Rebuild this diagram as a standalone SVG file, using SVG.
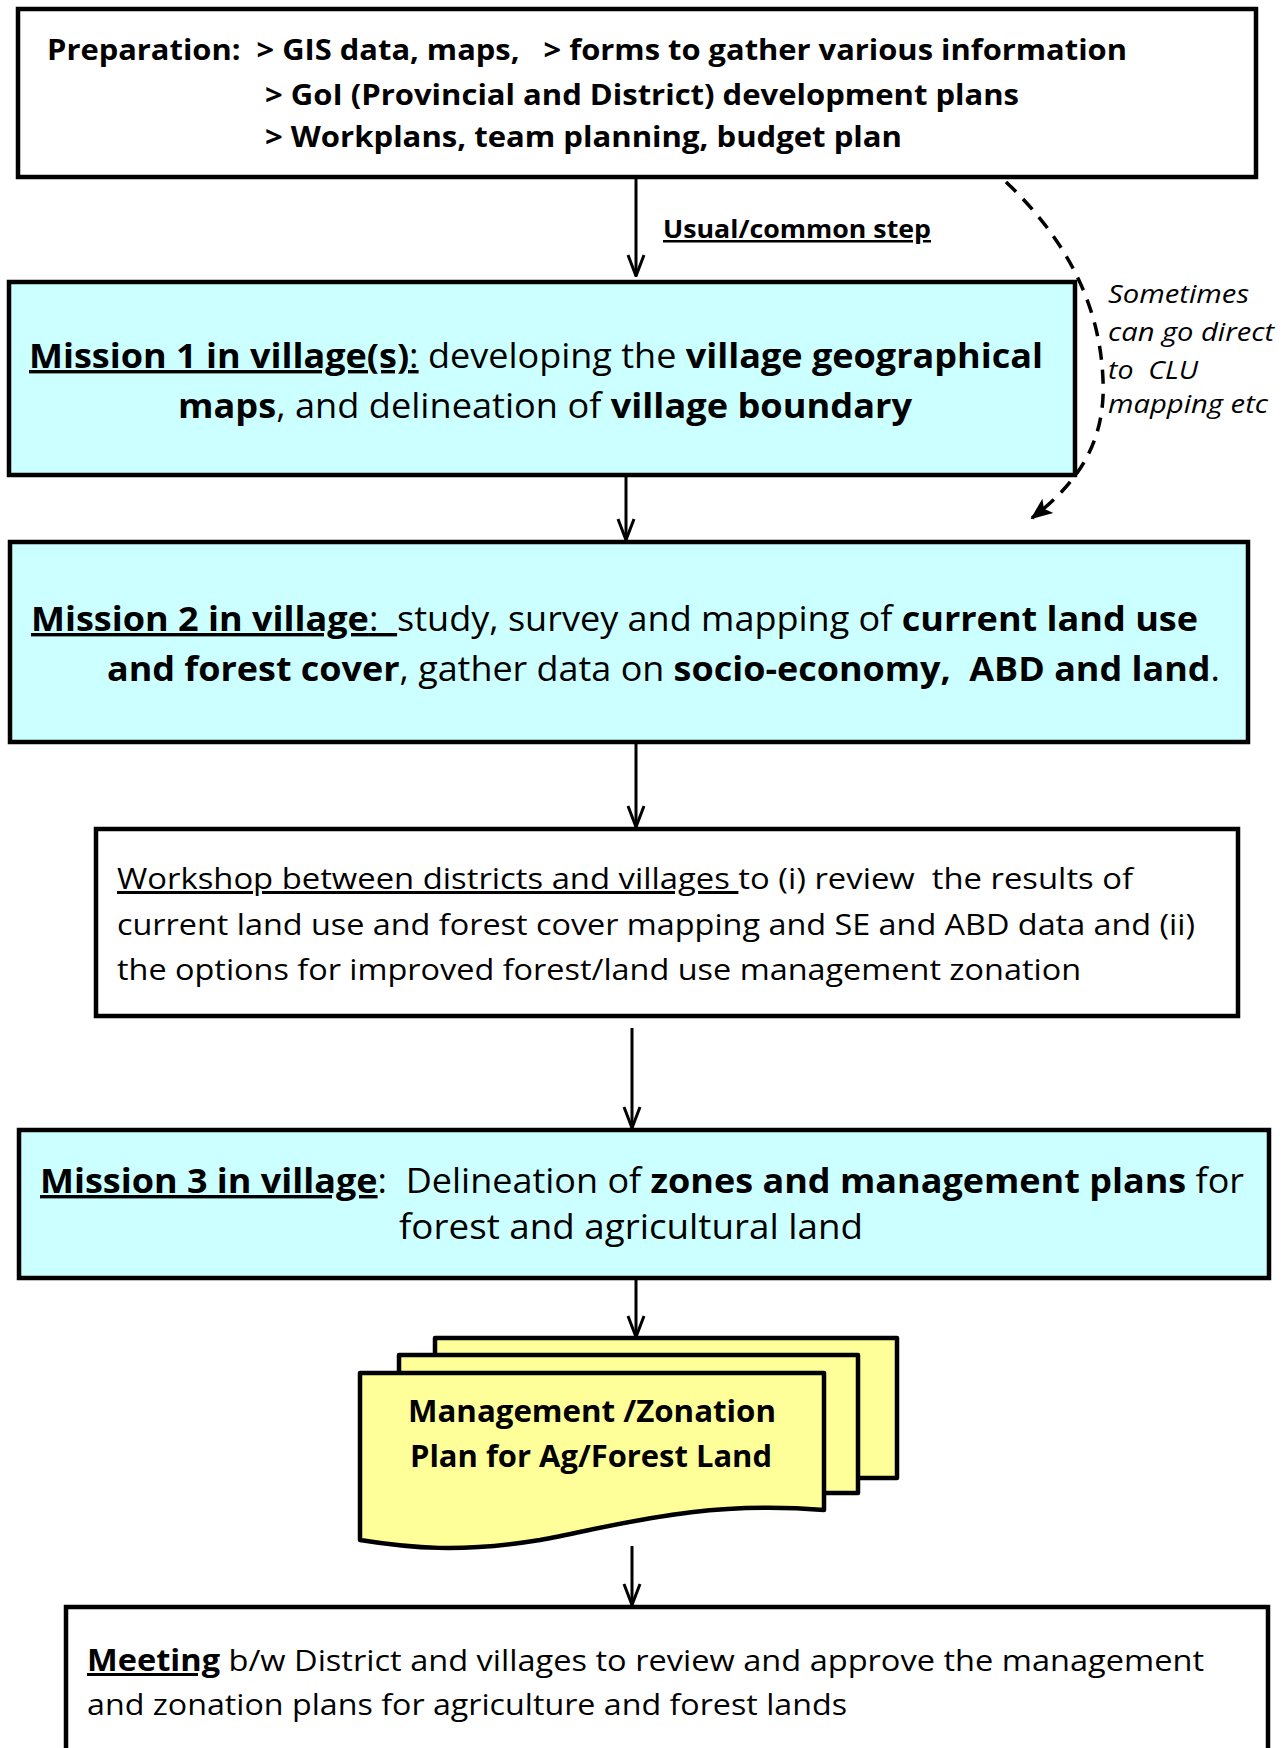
<svg xmlns="http://www.w3.org/2000/svg" width="1285" height="1748" viewBox="0 0 1285 1748">
<defs>
<style>
text{font-family:"Open Sans","Noto Sans","Liberation Sans",sans-serif;fill:#000;white-space:pre}
.b{font-weight:bold}
.u{text-decoration:underline}
.box{stroke:#000;stroke-width:4.5}
.cyan{fill:#CCFFFF}
.white{fill:#fff}
.doc{fill:#FFFF99;stroke:#000;stroke-width:4.5;stroke-linejoin:round}
.con{stroke:#000;stroke-width:3;fill:none}
.dash{stroke:#000;stroke-width:3.5;fill:none;stroke-dasharray:14 10}
</style>
<marker id="open" viewBox="0 0 24 24" refX="23" refY="12" markerWidth="24" markerHeight="24" markerUnits="userSpaceOnUse" orient="auto">
<path d="M2,4 L23,12 L2,20" fill="none" stroke="#000" stroke-width="3"/>
</marker>
<marker id="solid" viewBox="0 0 22 22" refX="20" refY="11" markerWidth="22" markerHeight="22" markerUnits="userSpaceOnUse" orient="auto">
<path d="M0,2 L22,11 L0,20 L5,11 Z" fill="#000"/>
</marker>
</defs>
<rect width="1285" height="1748" fill="#fff"/>

<g id="connectors">
<line class="con" x1="636" y1="179" x2="636" y2="276" marker-end="url(#open)"/>
<line class="con" x1="626" y1="477" x2="626" y2="540" marker-end="url(#open)"/>
<line class="con" x1="636" y1="744" x2="636" y2="827" marker-end="url(#open)"/>
<line class="con" x1="632" y1="1028" x2="632" y2="1128" marker-end="url(#open)"/>
<line class="con" x1="636" y1="1280" x2="636" y2="1337" marker-end="url(#open)"/>
<line class="con" x1="632" y1="1546" x2="632" y2="1605" marker-end="url(#open)"/>
<path class="dash" d="M1006,182 C1062,235 1100,300 1103,380 C1106,445 1075,485 1032,518" marker-end="url(#solid)"/>
<text class="b u" x="663" y="238" font-size="25" textLength="268" lengthAdjust="spacingAndGlyphs">Usual/common step</text>
<g id="side-label" font-style="italic" font-size="25">
<text x="1108" y="303" textLength="141" lengthAdjust="spacingAndGlyphs">Sometimes</text>
<text x="1108" y="341" textLength="166" lengthAdjust="spacingAndGlyphs">can go direct</text>
<text x="1108" y="379" textLength="90" lengthAdjust="spacingAndGlyphs">to  CLU</text>
<text x="1108" y="413" textLength="160" lengthAdjust="spacingAndGlyphs">mapping etc</text>
</g>
</g>

<g id="preparation">
<rect class="box white" x="18" y="9" width="1238" height="168"/>
<text class="b" x="47" y="60" font-size="28" textLength="1080" lengthAdjust="spacingAndGlyphs">Preparation:  &gt; GIS data, maps,   &gt; forms to gather various information</text>
<text class="b" x="265" y="105" font-size="28" textLength="754" lengthAdjust="spacingAndGlyphs">&gt; GoI (Provincial and District) development plans</text>
<text class="b" x="265" y="147" font-size="28" textLength="637" lengthAdjust="spacingAndGlyphs">&gt; Workplans, team planning, budget plan</text>
</g>

<g id="mission1">
<rect class="box cyan" x="9" y="282" width="1066" height="193"/>
<text x="29" y="368" font-size="34" textLength="1014" lengthAdjust="spacingAndGlyphs"><tspan class="b u">Mission 1 in village(s)</tspan><tspan class="u">:</tspan> developing the <tspan class="b">village geographical</tspan></text>
<text x="178" y="418" font-size="34" textLength="734" lengthAdjust="spacingAndGlyphs"><tspan class="b">maps</tspan>, and delineation of <tspan class="b">village boundary</tspan></text>
</g>

<g id="mission2">
<rect class="box cyan" x="10" y="542" width="1238" height="200"/>
<text x="31" y="631" font-size="34" textLength="1167" lengthAdjust="spacingAndGlyphs"><tspan class="b u">Mission 2 in village</tspan><tspan class="u">:  </tspan>study, survey and mapping of <tspan class="b">current land use</tspan></text>
<text x="107" y="681" font-size="34" textLength="1113" lengthAdjust="spacingAndGlyphs"><tspan class="b">and forest cover</tspan>, gather data on <tspan class="b">socio-economy,  ABD and land</tspan>.</text>
</g>

<g id="workshop">
<rect class="box white" x="96" y="829" width="1142" height="187"/>
<text x="117" y="889" font-size="30" textLength="1016" lengthAdjust="spacingAndGlyphs"><tspan class="u">Workshop between districts and villages </tspan>to (i) review  the results of</text>
<text x="117" y="935" font-size="30" textLength="1078" lengthAdjust="spacingAndGlyphs">current land use and forest cover mapping and SE and ABD data and (ii)</text>
<text x="117" y="980" font-size="30" textLength="964" lengthAdjust="spacingAndGlyphs">the options for improved forest/land use management zonation</text>
</g>

<g id="mission3">
<rect class="box cyan" x="19" y="1130" width="1250" height="148"/>
<text x="40" y="1193" font-size="34" textLength="1204" lengthAdjust="spacingAndGlyphs"><tspan class="b u">Mission 3 in village</tspan>:  Delineation of <tspan class="b">zones and management plans</tspan> for</text>
<text x="399" y="1239" font-size="34" textLength="464" lengthAdjust="spacingAndGlyphs">forest and agricultural land</text>
</g>

<g id="plan-document">
<rect class="doc" x="435" y="1338" width="462" height="140"/>
<rect class="doc" x="399" y="1355" width="459" height="138"/>
<path class="doc" d="M360,1373 H824 V1510 C700,1500 620,1525 540,1540 C460,1553 410,1548 360,1540 Z"/>
<text class="b" x="408" y="1422" font-size="30" textLength="368" lengthAdjust="spacingAndGlyphs">Management /Zonation</text>
<text class="b" x="410" y="1467" font-size="30" textLength="362" lengthAdjust="spacingAndGlyphs">Plan for Ag/Forest Land</text>
</g>

<g id="meeting">
<rect class="box white" x="66" y="1607" width="1202" height="160"/>
<text x="87" y="1671" font-size="30" textLength="1117" lengthAdjust="spacingAndGlyphs"><tspan class="b u">Meeting</tspan> b/w District and villages to review and approve the management</text>
<text x="87" y="1715" font-size="30" textLength="760" lengthAdjust="spacingAndGlyphs">and zonation plans for agriculture and forest lands</text>
</g>
</svg>
